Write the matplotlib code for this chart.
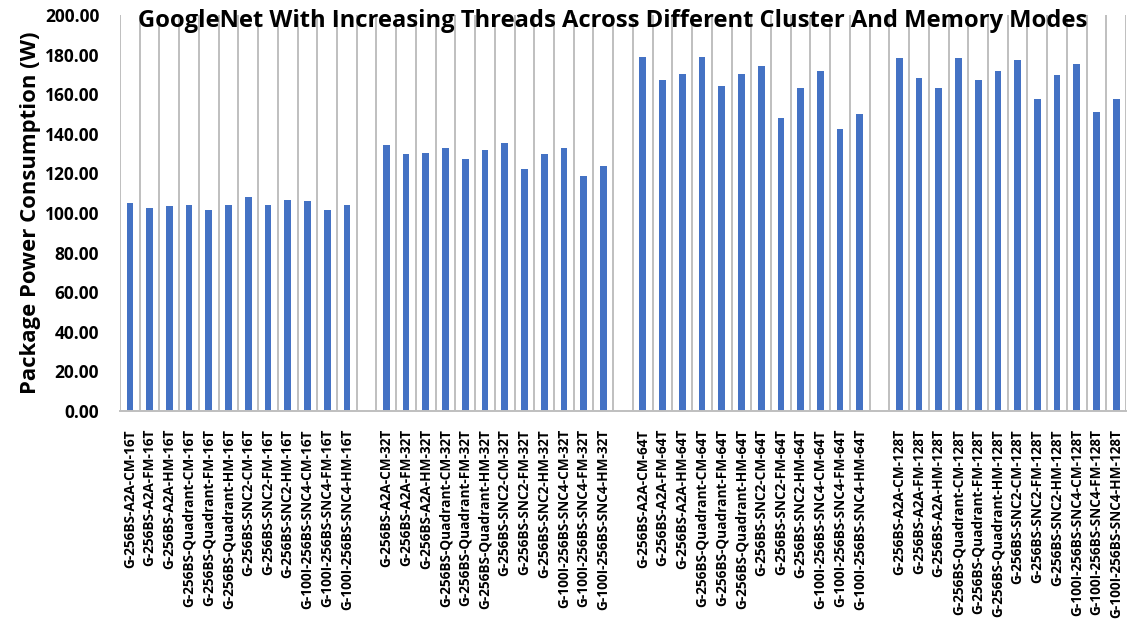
import matplotlib
matplotlib.use('Agg')
from matplotlib import pyplot as plt
import numpy as np

plt.rcParams['font.family'] = ['Open Sans', 'DejaVu Sans']
plt.rcParams['font.weight'] = 'bold'

modes = ['G-256BS-A2A-CM', 'G-256BS-A2A-FM', 'G-256BS-A2A-HM',
         'G-256BS-Quadrant-CM', 'G-256BS-Quadrant-FM', 'G-256BS-Quadrant-HM',
         'G-256BS-SNC2-CM', 'G-256BS-SNC2-FM', 'G-256BS-SNC2-HM',
         'G-100I-256BS-SNC4-CM', 'G-100I-256BS-SNC4-FM', 'G-100I-256BS-SNC4-HM']
threads = ['16T', '32T', '64T', '128T']

# package power (W) per thread count
p16 = [105.1, 102.5, 103.7, 103.9, 101.4, 104.0, 108.1, 104.0, 106.6, 105.9, 101.5, 103.9]
p32 = [134.2, 129.6, 130.3, 132.7, 127.1, 131.8, 135.4, 122.4, 129.8, 133.0, 118.7, 123.6]
p64 = [178.9, 167.1, 170.1, 179.0, 164.4, 170.1, 174.3, 148.1, 163.1, 171.8, 142.6, 150.1]
p128 = [178.5, 168.3, 162.9, 178.5, 167.3, 171.6, 177.5, 157.7, 169.8, 175.3, 150.8, 157.7]

# build category list with a blank slot between thread groups
labels = []
vals = []
for k, (t, p) in enumerate(zip(threads, [p16, p32, p64, p128])):
    if k > 0:
        labels.append('')
        vals.append(np.nan)
    for m, v in zip(modes, p):
        labels.append(m + '-' + t)
        vals.append(v)
vals = np.array(vals)
x = np.arange(len(labels))

fig = plt.figure(figsize=(11.27, 6.28), dpi=100)
ax = fig.add_axes([0.1065, 0.3455, 0.8927, 0.6306])

# category separators
for b in np.arange(-0.5, len(labels), 1.0):
    ax.axvline(b, color='#bfbfbf', lw=1.4, zorder=0)

ax.bar(x, np.nan_to_num(vals), width=0.34, color='#4472c4', zorder=2)

ax.set_xlim(-0.5, len(labels) - 0.5)
ax.set_ylim(0, 200)
ax.set_yticks(np.arange(0, 201, 20))
ax.set_yticklabels(['%.2f' % v for v in np.arange(0, 201, 20)], fontsize=12.5, fontweight='bold')
ax.set_xticks(x)
ax.set_xticklabels(labels, rotation=90, fontsize=9.8, fontweight='bold')
ax.tick_params(axis='both', length=0)
ax.tick_params(axis='x', pad=13)
ax.tick_params(axis='y', pad=15)

for s in ['top', 'right', 'left']:
    ax.spines[s].set_visible(False)
ax.spines['bottom'].set_color('#bfbfbf')
ax.spines['bottom'].set_linewidth(1.4)

ax.set_ylabel('Package Power Consumption (W)', fontsize=15.9, fontweight='bold', labelpad=3)
ax.text(0.49, 0.985, 'GoogleNet With Increasing Threads Across Different Cluster And Memory Modes',
        transform=ax.transAxes, ha='center', va='center', fontsize=17.1, fontweight='bold', zorder=5)

plt.savefig('out.png', dpi=100)
